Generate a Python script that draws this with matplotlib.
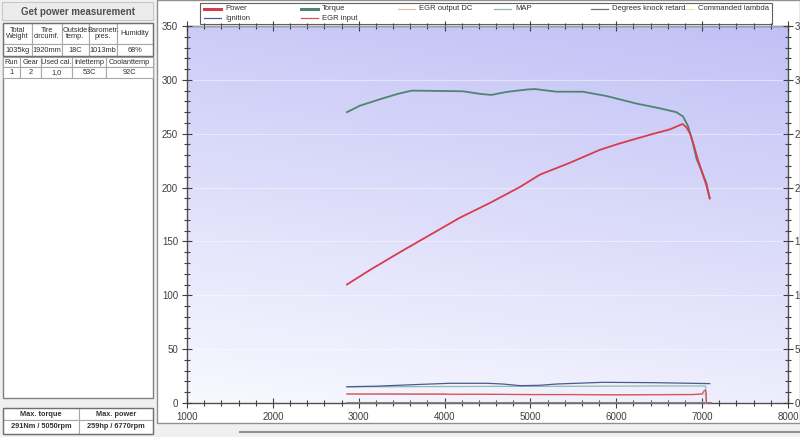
import numpy as np
import matplotlib.pyplot as plt
from matplotlib.patches import Rectangle
from matplotlib.ticker import MultipleLocator

plt.rcParams['font.family'] = ['Liberation Sans', 'DejaVu Sans']

# ---- dyno run ----
torque_rpm = [2863, 3014, 3247, 3456, 3616, 3945, 4213, 4411, 4547, 4722, 4955, 5050,
              5304, 5610, 5886, 6235, 6506, 6700, 6778, 6836, 6894, 6933, 6991, 7050, 7088]
torque_nm = [270, 276, 282, 287, 290, 289.7, 289.4, 287, 286, 288.8, 291, 291.5,
             289, 289, 285, 278, 273.6, 270, 266, 257, 241, 227, 216, 204, 190]

power_rpm = [2863, 3131, 3480, 3829, 4178, 4527, 4877, 5110, 5459, 5808, 6041, 6390,
             6623, 6770, 6817, 6860, 6900, 6950, 7000, 7050, 7088]
power_hp = [110, 123.5, 140, 156, 172, 185.7, 200.5, 212, 223, 235, 241, 249,
            254, 259, 256, 250, 240, 226, 214, 202, 190]

ignition_rpm = [2863, 3200, 3700, 4060, 4500, 4680, 4880, 5100, 5300, 5840, 6420, 7088]
ignition_deg = [15.1, 15.6, 17.2, 18.3, 18.3, 17.6, 16.1, 16.4, 17.6, 19.2, 18.9, 18.0]

map_rpm = [2863, 3700, 4500, 5500, 6500, 7040, 7045]
map_val = [15.0, 15.2, 15.4, 15.5, 15.8, 15.8, 0]

egr_in_rpm = [2863, 4000, 5000, 6000, 6900, 7000, 7025, 7040, 7048, 7050]
egr_in_val = [8.3, 8.2, 7.9, 7.6, 7.8, 8.5, 11.5, 12, 8, 0]

egr_dc_rpm = [2863, 4000, 4050, 4500, 5000, 5500, 6000, 6500, 7000, 7040]
egr_dc_val = [8.6, 8.6, 7.8, 8.2, 7.6, 8.0, 7.4, 7.8, 8.2, 8.4]

knock_rpm = [2863, 7100]
knock_val = [0, 0]

lambda_rpm = [2863, 7090]
lambda_val = [1.0, 1.0]

info_head = ["Total\nWeight", "Tire\ncircumf.", "Outside\ntemp.", "Barometr.\npres.", "Humidity"]
info_vals = ["1035kg", "1920mm", "18C", "1013mb", "68%"]
run_head = ["Run", "Gear", "Used cal.", "Inlettemp", "Coolanttemp"]
run_vals = ["1", "2", "1,0", "53C", "92C"]
max_head = ["Max. torque", "Max. power"]
max_vals = ["291Nm / 5050rpm", "259hp / 6770rpm"]

# name, x, y, color, width
series = [
    ("Power", power_rpm, power_hp, "#d83c4c", 1.3),
    ("Ignition", ignition_rpm, ignition_deg, "#4a5a90", 0.9),
    ("Torque", torque_rpm, torque_nm, "#4f8472", 1.3),
    ("EGR input", egr_in_rpm, egr_in_val, "#d85060", 0.9),
    ("EGR output DC", egr_dc_rpm, egr_dc_val, "#e0c090", 0.9),
    ("MAP", map_rpm, map_val, "#8cbcb0", 0.9),
    ("Degrees knock retard", knock_rpm, knock_val, "#707080", 1.2),
    ("Commanded lambda", lambda_rpm, lambda_val, "#e8e8a0", 0.9),
]

W, H = 800, 437
fig = plt.figure(figsize=(W / 100, H / 100), dpi=100, facecolor="#f0f0f0")

# background layer in pixel coordinates
bg = fig.add_axes([0, 0, 1, 1], zorder=-1)
bg.set_xlim(0, W)
bg.set_ylim(H, 0)
bg.axis("off")

bg.add_patch(Rectangle((157, 0), W - 157, 423, fc="white", ec="#909090", lw=1))
bg.plot([240, 800], [432, 432], color="#909090", lw=1.5)


def draw_table(xs, ys, rows, size=5.3, bold=False):
    for r, row in enumerate(rows):
        for c, txt in enumerate(row):
            bg.add_patch(Rectangle((xs[c], ys[r]), xs[c + 1] - xs[c], ys[r + 1] - ys[r],
                                   fc="white", ec="#a8a8a8", lw=0.8))
            bg.text((xs[c] + xs[c + 1]) / 2, (ys[r] + ys[r + 1]) / 2, txt,
                    ha="center", va="center", fontsize=size, color="#303030",
                    linespacing=0.95, fontweight="bold" if bold else "normal")


# left info panel
bg.add_patch(Rectangle((2, 2), 151, 18, fc="#ececec", ec="#c8c8c8", lw=0.8))
bg.text(78, 12, "Get power measurement", ha="center", va="center",
        fontsize=7, fontweight="bold", color="#505050")
bg.add_patch(Rectangle((3, 57), 150, 341, fc="white", ec="#808080", lw=1))
draw_table([3, 32, 62, 89, 117, 153], [23, 44, 56], [info_head, info_vals])
draw_table([3, 20, 41, 72, 106, 153], [57, 67, 78], [run_head, run_vals])
draw_table([3, 79, 153], [408, 420, 434], [max_head, max_vals], size=5.3, bold=True)
bg.add_patch(Rectangle((3, 23), 150, 33, fill=False, ec="#707070", lw=1))
bg.add_patch(Rectangle((3, 408), 150, 26, fill=False, ec="#707070", lw=1))

# legend drawn at the screen positions
bg.add_patch(Rectangle((200, 3), 572, 21, fc="white", ec="#606060", lw=0.8))
leg_pos = {
    "Power": (204, 9), "Ignition": (204, 18), "Torque": (301, 9), "EGR input": (301, 18),
    "EGR output DC": (398, 9), "MAP": (494, 9), "Degrees knock retard": (591, 9),
    "Commanded lambda": (684, 9),
}
for name, _, _, color, lw in series:
    lx, ly = leg_pos[name]
    hl = 10 if name == "Commanded lambda" else 17
    bg.plot([lx, lx + hl], [ly, ly], color=color, lw=2.2 if lw > 1.2 else 0.9)
    bg.text(lx + hl + 4, ly, name, ha="left", va="center", fontsize=5.5, color="#303030")

# main chart
ax = fig.add_axes([187 / W, 1 - 403 / H, (788 - 187) / W, (403 - 26) / H])
ax.set_xlim(1000, 8000)
ax.set_ylim(0, 350)

gy = np.linspace(0, 1, 200)[:, None]
gx = np.linspace(0, 1, 200)[None, :]
t = 0.8 * gy + 0.2 * gx
c0 = np.array([0.975, 0.975, 1.0])
c1 = np.array([0.755, 0.755, 0.965])
ax.imshow(c0 + (c1 - c0) * t[..., None], extent=(1000, 8000, 0, 350),
          origin="lower", aspect="auto", zorder=0)
ax.yaxis.grid(True, color="white", alpha=0.45, lw=0.8)
ax.set_axisbelow(False)

for name, x, y, color, lw in reversed(series):
    ax.plot(x, y, color=color, lw=lw, zorder=3, clip_on=False)

ax.xaxis.set_major_locator(MultipleLocator(1000))
ax.xaxis.set_minor_locator(MultipleLocator(200))
ax.yaxis.set_major_locator(MultipleLocator(50))
ax.yaxis.set_minor_locator(MultipleLocator(10))
ax.tick_params(which="both", direction="inout", top=True, right=True,
               colors="#404040", labelsize=7, width=0.8)
ax.tick_params(which="major", length=7, pad=3)
ax.tick_params(which="minor", length=4)
for s in ax.spines.values():
    s.set_color("#505050")
    s.set_linewidth(1)

# right-hand scale, labels run off the window edge as on screen
ax_r = ax.twinx()
ax_r.set_ylim(ax.get_ylim())
ax_r.yaxis.set_major_locator(MultipleLocator(50))
ax_r.yaxis.set_minor_locator(MultipleLocator(10))
ax_r.tick_params(which="both", direction="inout", colors="#404040", labelsize=7, width=0.8)
ax_r.tick_params(which="major", length=7, pad=1)
ax_r.tick_params(which="minor", length=4)
for s in ax_r.spines.values():
    s.set_visible(False)

fig.savefig("out.png", dpi=100, facecolor=fig.get_facecolor())
